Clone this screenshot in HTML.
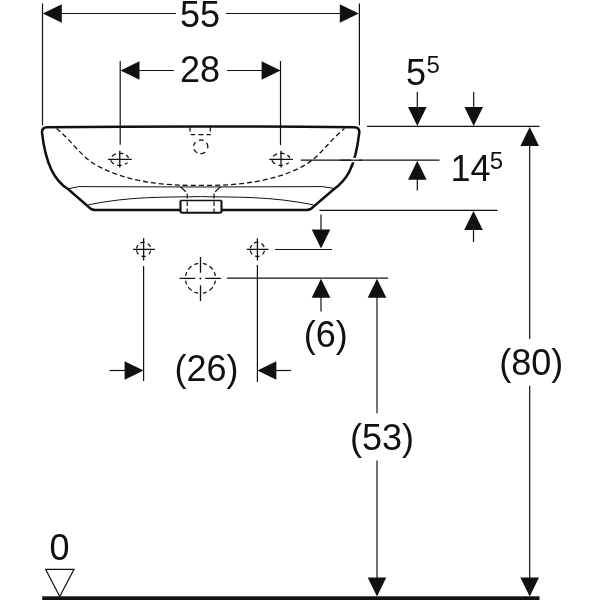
<!DOCTYPE html>
<html><head><meta charset="utf-8"><style>
html,body{margin:0;padding:0;background:#fff;width:600px;height:600px;overflow:hidden}
svg{position:absolute;left:0;top:0;display:block;will-change:transform}
text{font-family:"Liberation Sans",sans-serif;fill:#111}
</style></head><body>
<svg width="600" height="600" viewBox="0 0 600 600">
<g stroke="#111" stroke-width="1.2" fill="none">
  <line x1="42.5" y1="3.5" x2="42.5" y2="125.4"/>
  <line x1="359.4" y1="3.5" x2="359.4" y2="125.3"/>
  <line x1="55" y1="13.5" x2="176" y2="13.5"/>
  <line x1="226" y1="13.5" x2="346" y2="13.5"/>
  <line x1="120.2" y1="61" x2="120.2" y2="144.7"/>
  <line x1="280.5" y1="61" x2="280.5" y2="145"/>
  <line x1="130" y1="70.5" x2="174" y2="70.5"/>
  <line x1="227" y1="70.5" x2="270" y2="70.5"/>
  <line x1="417.3" y1="92" x2="417.3" y2="110"/>
  <line x1="473.7" y1="92" x2="473.7" y2="110"/>
  <line x1="367" y1="126.3" x2="539.5" y2="126.3"/>
  <line x1="529.7" y1="140" x2="529.7" y2="339"/>
  <line x1="529.7" y1="385.7" x2="529.7" y2="585"/>
  <line x1="300.8" y1="160.2" x2="439.5" y2="160.2"/>
  <line x1="417.3" y1="175" x2="417.3" y2="190.5"/>
  <line x1="319.5" y1="210.4" x2="497.5" y2="210.4"/>
  <line x1="473.5" y1="225" x2="473.5" y2="242"/>
  <line x1="321" y1="214.5" x2="321" y2="235"/>
  <line x1="275" y1="249.5" x2="332" y2="249.5"/>
  <line x1="227" y1="278.2" x2="388" y2="278.2"/>
  <line x1="321" y1="290" x2="321" y2="311.5"/>
  <line x1="377" y1="290" x2="377" y2="413.3"/>
  <line x1="377" y1="460.4" x2="377" y2="585"/>
  <line x1="143.6" y1="266" x2="143.6" y2="381"/>
  <line x1="257.4" y1="265" x2="257.4" y2="382"/>
  <line x1="109.5" y1="370.5" x2="130" y2="370.5"/>
  <line x1="270" y1="370.5" x2="291" y2="370.5"/>
  <path d="M45.6 569.4 L74 569.4 L59.75 596.5 Z" stroke-width="1.2"/>
</g>
<g fill="#111">
  <path d="M42.8 13.5 L61.8 4.199999999999999 L61.8 22.8 Z"/>
  <path d="M358.8 13.5 L339.8 4.199999999999999 L339.8 22.8 Z"/>
  <path d="M120.5 70.5 L139.5 61.2 L139.5 79.8 Z"/>
  <path d="M280.6 70.5 L261.6 61.2 L261.6 79.8 Z"/>
  <path d="M417.3 126 L408.0 107 L426.6 107 Z"/>
  <path d="M473.7 126 L464.4 107 L483.0 107 Z"/>
  <path d="M529.7 127 L520.4000000000001 146 L539.0 146 Z"/>
  <path d="M417.3 160.8 L408.0 179.8 L426.6 179.8 Z"/>
  <path d="M473.5 211 L464.2 230 L482.8 230 Z"/>
  <path d="M321 248.5 L311.7 229.5 L330.3 229.5 Z"/>
  <path d="M321 278.8 L311.7 297.8 L330.3 297.8 Z"/>
  <path d="M377 278.8 L367.7 297.8 L386.3 297.8 Z"/>
  <path d="M377 596.5 L367.7 577.5 L386.3 577.5 Z"/>
  <path d="M529.7 596.5 L520.4000000000001 577.5 L539.0 577.5 Z"/>
  <path d="M143.6 370.5 L124.6 361.2 L124.6 379.8 Z"/>
  <path d="M257.4 370.5 L276.4 361.2 L276.4 379.8 Z"/>
  <rect x="42.2" y="596.3" width="497.3" height="4"/>
</g>
<g fill="none" stroke="#111">
  <path d="M47 127.3 Q200.5 125.7 354.5 127.3 Q359.3 127.3 359.3 132.5 C355 169.46, 345.67 180.76, 333.5 189.5 L310.8 208.9 Q309.3 209.9 306.8 209.9 L95 209.9 Q92.5 209.9 91 208.9 L68.3 189.3 C55.01 180.96, 45.7 165.33, 42 132.5 Q42 127.3 47 127.3 Z" stroke-width="2.5"/>
  <path d="M67.5 188.8 L79 186.6 L200.5 187 L322.5 186.6 L334.2 188.5" stroke-width="1"/>
  <path d="M88.3 204.8 C131.3 196.12, 163.29 197.36, 200.5 196.6 C237.71 197.36, 269.7 196.12, 313.3 204.8" stroke-width="1"/>
  <path d="M56.5 128.5 C73.87 142.62, 81.01 157.65, 100 167.2 C127.58 181.2, 161.13 185.88, 200.5 185.4 C239.87 185.88, 273.42 181.2, 301 167.2 C319.99 157.65, 327.13 142.62, 344.5 128.5" stroke-width="1.3" stroke-dasharray="5 3"/>
  <path d="M180.5 186.8 L185.8 191.8 M187.2 193.5 L187.2 198.5 M220.5 186.8 L215.2 191.8 M214 193.5 L214 198.5" stroke-width="1.2"/>
  <rect x="180.5" y="200.5" width="41" height="12.2" fill="#fff" stroke="none"/>
  <path d="M180.5 200.5 L180.5 211 Q180.5 212.7 182.2 212.7 L219.8 212.7 Q221.5 212.7 221.5 211 L221.5 200.5" stroke-width="2.1"/>
  <path d="M180.5 200.6 L221.5 200.6" stroke-width="1.5"/>
  <path d="M187.2 201.5 L187.2 206 M187.2 208.5 L187.2 212 M214 201.5 L214 206 M214 208.5 L214 212" stroke-width="1.2"/>
  <path d="M190 127 L190 131.5 M210.3 127 L210.3 131.5" stroke-width="1.3"/>
  <path d="M190.8 134.7 L195.1 134.7 M198.5 134.7 L203.6 134.7 M206.5 134.7 L210.8 134.7" stroke-width="1.3"/>
  <path d="M198.86 140.23 L199.09 140.18 L199.32 140.13 L199.55 140.09 L199.79 140.06 L200.02 140.03 L200.25 140.01 L200.49 140.00 L200.72 140.00 L200.96 140.00 L201.20 140.02 L201.43 140.04 L201.66 140.06 L201.90 140.10 L202.13 140.14 L202.36 140.19 L202.59 140.24 L202.81 140.31 L203.03 140.38 L203.26 140.46 L203.47 140.54 M206.44 142.80 L206.58 142.99 L206.71 143.18 L206.83 143.38 L206.95 143.58 L207.06 143.78 L207.16 143.98 L207.26 144.19 L207.35 144.41 L207.43 144.62 L207.50 144.84 L207.56 145.06 L207.62 145.28 L207.67 145.50 L207.71 145.73 L207.74 145.95 L207.77 146.18 L207.79 146.41 L207.80 146.64 L207.80 146.86 L207.79 147.09 L207.78 147.32 L207.76 147.55 L207.73 147.77 L207.69 148.00 L207.64 148.22 L207.59 148.45 M205.17 152.08 L204.97 152.23 L204.78 152.37 L204.57 152.50 L204.36 152.62 L204.15 152.74 L203.94 152.85 L203.72 152.96 L203.49 153.05 L203.26 153.14 L203.03 153.22 L202.80 153.30 L202.56 153.36 L202.33 153.42 L202.09 153.47 L201.85 153.51 L201.60 153.54 L201.36 153.57 L201.11 153.59 L200.87 153.60 L200.62 153.60 L200.38 153.59 M197.26 152.75 L197.05 152.63 L196.84 152.51 L196.64 152.38 L196.45 152.24 L196.25 152.10 L196.07 151.95 L195.89 151.80 L195.71 151.64 L195.54 151.47 L195.38 151.30 L195.22 151.13 L195.07 150.95 L194.93 150.76 L194.79 150.57 L194.66 150.37 L194.54 150.18 L194.42 149.97 L194.31 149.77 L194.21 149.56 L194.11 149.34 L194.03 149.13 M193.65 145.97 L193.69 145.74 L193.73 145.51 L193.78 145.28 L193.84 145.05 L193.91 144.83 L193.98 144.60 L194.06 144.38 L194.15 144.17 L194.25 143.95 L194.36 143.74 L194.47 143.54 L194.59 143.33 L194.72 143.13 L194.86 142.94 L195.00 142.75 L195.15 142.56 L195.30 142.38 L195.47 142.21" stroke-width="1.3"/>
  <path d="M111.99 156.42 L112.14 156.24 L112.30 156.06 L112.46 155.89 L112.64 155.73 L112.83 155.57 L113.02 155.41 L113.22 155.25 L113.43 155.11 L113.64 154.96 L113.87 154.82 L114.10 154.69 L114.33 154.56 L114.57 154.44 L114.82 154.32 L115.08 154.21 L115.33 154.10 L115.60 154.01 L115.87 153.91 M118.84 153.33 L119.14 153.32 L119.44 153.30 L119.74 153.30 L120.04 153.30 L120.34 153.31 L120.64 153.33 L120.94 153.35 L121.23 153.38 L121.53 153.42 L121.82 153.46 L122.11 153.51 L122.40 153.57 L122.69 153.63 L122.97 153.70 L123.25 153.78 M126.12 155.11 L126.32 155.26 L126.52 155.41 L126.72 155.57 L126.90 155.73 L127.07 155.89 L127.24 156.06 L127.40 156.24 L127.55 156.41 L127.69 156.59 L127.82 156.78 L127.95 156.96 L128.06 157.15 L128.17 157.34 L128.26 157.53 L128.35 157.73 L128.42 157.93 M127.40 162.47 L127.24 162.64 L127.07 162.81 L126.89 162.98 L126.70 163.14 L126.51 163.30 L126.31 163.46 L126.10 163.61 L125.88 163.75 L125.65 163.89 L125.42 164.02 L125.18 164.15 L124.94 164.28 M121.62 165.27 L121.33 165.31 L121.04 165.34 L120.75 165.36 L120.45 165.38 L120.16 165.39 L119.86 165.40 L119.57 165.40 L119.27 165.39 L118.98 165.38 L118.69 165.35 L118.39 165.33 L118.10 165.29 L117.81 165.25 L117.53 165.20 L117.24 165.15 M113.93 163.92 L113.71 163.78 L113.49 163.63 L113.28 163.49 L113.07 163.33 L112.88 163.18 L112.69 163.01 L112.51 162.85 L112.34 162.68 L112.17 162.50 L112.02 162.32 L111.88 162.14 L111.74 161.96 L111.61 161.77 L111.50 161.58 L111.39 161.39 L111.29 161.19 L111.21 160.99 L111.13 160.79 L111.06 160.59 L111.00 160.39 L110.96 160.19 L110.92 159.98" stroke-width="1.3"/>
  <path d="M273.22 156.42 L273.37 156.24 L273.53 156.06 L273.69 155.89 L273.87 155.73 L274.06 155.57 L274.25 155.41 L274.45 155.25 L274.66 155.11 L274.87 154.96 L275.10 154.82 L275.33 154.69 L275.56 154.56 L275.80 154.44 L276.05 154.32 L276.31 154.21 L276.56 154.10 L276.83 154.01 L277.10 153.91 M280.07 153.33 L280.37 153.32 L280.67 153.30 L280.97 153.30 L281.27 153.30 L281.57 153.31 L281.87 153.33 L282.17 153.35 L282.46 153.38 L282.76 153.42 L283.05 153.46 L283.34 153.51 L283.63 153.57 L283.92 153.63 L284.20 153.70 L284.48 153.78 M287.35 155.11 L287.55 155.26 L287.75 155.41 L287.95 155.57 L288.13 155.73 L288.30 155.89 L288.47 156.06 L288.63 156.24 L288.78 156.41 L288.92 156.59 L289.05 156.78 L289.18 156.96 L289.29 157.15 L289.40 157.34 L289.49 157.53 L289.58 157.73 L289.65 157.93 M288.63 162.47 L288.47 162.64 L288.30 162.81 L288.12 162.98 L287.93 163.14 L287.74 163.30 L287.54 163.46 L287.33 163.61 L287.11 163.75 L286.88 163.89 L286.65 164.02 L286.41 164.15 L286.17 164.28 M282.85 165.27 L282.56 165.31 L282.27 165.34 L281.98 165.36 L281.68 165.38 L281.39 165.39 L281.09 165.40 L280.80 165.40 L280.50 165.39 L280.21 165.38 L279.92 165.35 L279.62 165.33 L279.33 165.29 L279.04 165.25 L278.76 165.20 L278.47 165.15 M275.16 163.92 L274.94 163.78 L274.72 163.63 L274.51 163.49 L274.30 163.33 L274.11 163.18 L273.92 163.01 L273.74 162.85 L273.57 162.68 L273.40 162.50 L273.25 162.32 L273.11 162.14 L272.97 161.96 L272.84 161.77 L272.73 161.58 L272.62 161.39 L272.52 161.19 L272.44 160.99 L272.36 160.79 L272.29 160.59 L272.23 160.39 L272.19 160.19 L272.15 159.98" stroke-width="1.3"/>
  <path d="M108.1 159.3 L131.7 159.3 M119.77 150.8 L119.77 167.6" stroke-width="1.3"/>
  <path d="M269.3 159.3 L292.9 159.3 M281 150.8 L281 167.6" stroke-width="1.3"/>
  <path d="M140.34 243.11 L140.55 243.01 L140.77 242.91 L140.99 242.81 L141.21 242.73 L141.44 242.65 L141.67 242.58 L141.90 242.52 L142.13 242.46 L142.37 242.42 L142.60 242.38 L142.84 242.35 L143.08 242.32 L143.32 242.31 L143.56 242.30 L143.80 242.30 L144.04 242.31 L144.28 242.33 L144.52 242.35 M147.77 243.61 L147.96 243.75 L148.14 243.89 L148.32 244.04 L148.50 244.20 L148.67 244.36 L148.83 244.53 L148.99 244.70 L149.14 244.88 L149.28 245.06 L149.42 245.24 L149.56 245.44 L149.68 245.63 L149.80 245.83 L149.92 246.03 L150.02 246.24 L150.12 246.45 L150.21 246.66 L150.30 246.88 M150.62 250.70 L150.57 250.93 L150.51 251.17 L150.44 251.40 L150.37 251.63 L150.28 251.86 L150.19 252.09 L150.09 252.31 L149.99 252.53 L149.87 252.75 L149.75 252.96 L149.62 253.16 L149.49 253.37 L149.34 253.56 L149.19 253.76 L149.04 253.94 L148.87 254.12 L148.71 254.30 M145.73 256.09 L145.49 256.16 L145.26 256.22 L145.03 256.27 L144.79 256.31 L144.55 256.34 L144.31 256.37 L144.07 256.39 L143.83 256.40 L143.59 256.40 L143.35 256.39 L143.11 256.38 L142.87 256.36 L142.63 256.33 L142.39 256.29 L142.15 256.24 L141.92 256.19 L141.69 256.13 L141.46 256.05 M138.58 254.28 L138.41 254.11 L138.25 253.93 L138.10 253.74 L137.95 253.55 L137.81 253.36 L137.67 253.16 L137.55 252.95 L137.43 252.74 L137.31 252.53 L137.21 252.32 L137.11 252.10 L137.02 251.87 L136.94 251.65 L136.86 251.42 L136.80 251.19 L136.74 250.95 L136.69 250.72 L136.64 250.48 L136.61 250.25 M136.63 248.30 L136.67 248.06 L136.72 247.82 L136.78 247.58 L136.84 247.35 L136.92 247.12 L137.00 246.89 L137.09 246.66 L137.18 246.44 L137.29 246.22 L137.40 246.01 L137.52 245.79 L137.65 245.59 L137.78 245.38 L137.92 245.19" stroke-width="1.3"/>
  <path d="M254.09 243.11 L254.30 243.01 L254.52 242.91 L254.74 242.81 L254.96 242.73 L255.19 242.65 L255.42 242.58 L255.65 242.52 L255.88 242.46 L256.12 242.42 L256.35 242.38 L256.59 242.35 L256.83 242.32 L257.07 242.31 L257.31 242.30 L257.55 242.30 L257.79 242.31 L258.03 242.33 L258.27 242.35 M261.52 243.61 L261.71 243.75 L261.89 243.89 L262.07 244.04 L262.25 244.20 L262.42 244.36 L262.58 244.53 L262.74 244.70 L262.89 244.88 L263.03 245.06 L263.17 245.24 L263.31 245.44 L263.43 245.63 L263.55 245.83 L263.67 246.03 L263.77 246.24 L263.87 246.45 L263.96 246.66 L264.05 246.88 M264.37 250.70 L264.32 250.93 L264.26 251.17 L264.19 251.40 L264.12 251.63 L264.03 251.86 L263.94 252.09 L263.84 252.31 L263.74 252.53 L263.62 252.75 L263.50 252.96 L263.37 253.16 L263.24 253.37 L263.09 253.56 L262.94 253.76 L262.79 253.94 L262.62 254.12 L262.46 254.30 M259.48 256.09 L259.24 256.16 L259.01 256.22 L258.78 256.27 L258.54 256.31 L258.30 256.34 L258.06 256.37 L257.82 256.39 L257.58 256.40 L257.34 256.40 L257.10 256.39 L256.86 256.38 L256.62 256.36 L256.38 256.33 L256.14 256.29 L255.90 256.24 L255.67 256.19 L255.44 256.13 L255.21 256.05 M252.33 254.28 L252.16 254.11 L252.00 253.93 L251.85 253.74 L251.70 253.55 L251.56 253.36 L251.42 253.16 L251.30 252.95 L251.18 252.74 L251.06 252.53 L250.96 252.32 L250.86 252.10 L250.77 251.87 L250.69 251.65 L250.61 251.42 L250.55 251.19 L250.49 250.95 L250.44 250.72 L250.39 250.48 L250.36 250.25 M250.38 248.30 L250.42 248.06 L250.47 247.82 L250.53 247.58 L250.59 247.35 L250.67 247.12 L250.75 246.89 L250.84 246.66 L250.93 246.44 L251.04 246.22 L251.15 246.01 L251.27 245.79 L251.40 245.59 L251.53 245.38 L251.67 245.19" stroke-width="1.3"/>
  <path d="M133 249.35 L154.9 249.35 M143.65 238.25 L143.65 260.5" stroke-width="1.3"/>
  <path d="M246.7 249.35 L268.6 249.35 M257.4 238.25 L257.4 260.5" stroke-width="1.3"/>
  <path d="M215.36 280.65 L215.28 281.13 L215.18 281.61 L215.06 282.09 L214.93 282.56 L214.78 283.03 L214.62 283.49 L214.44 283.95 L214.25 284.40 M212.68 287.12 L212.39 287.49 L212.10 287.86 L211.79 288.22 L211.47 288.57 L211.14 288.91 L210.80 289.23 L210.45 289.55 L210.09 289.86 L209.72 290.15 L209.35 290.44 M206.62 292.00 L206.17 292.20 L205.71 292.37 L205.24 292.54 L204.77 292.68 L204.30 292.81 L203.82 292.93 L203.34 293.03 L202.85 293.12 M198.15 293.12 L197.66 293.03 L197.18 292.93 L196.70 292.81 L196.23 292.68 L195.76 292.54 L195.29 292.37 L194.83 292.20 L194.38 292.00 M191.65 290.44 L191.28 290.15 L190.91 289.86 L190.55 289.55 L190.20 289.23 L189.86 288.91 L189.53 288.57 L189.21 288.22 L188.90 287.86 L188.61 287.49 L188.32 287.12 M186.75 284.40 L186.56 283.95 L186.38 283.49 L186.22 283.03 L186.07 282.56 L185.94 282.09 L185.82 281.61 L185.72 281.13 L185.64 280.65 M185.64 275.95 L185.72 275.47 L185.82 274.99 L185.94 274.51 L186.07 274.04 L186.22 273.57 L186.38 273.11 L186.56 272.65 L186.75 272.20 M188.32 269.48 L188.61 269.11 L188.90 268.74 L189.21 268.38 L189.53 268.03 L189.86 267.69 L190.20 267.37 L190.55 267.05 L190.91 266.74 L191.28 266.45 L191.65 266.16 M194.38 264.60 L194.83 264.40 L195.29 264.23 L195.76 264.06 L196.23 263.92 L196.70 263.79 L197.18 263.67 L197.66 263.57 L198.15 263.48 M202.85 263.48 L203.34 263.57 L203.82 263.67 L204.30 263.79 L204.77 263.92 L205.24 264.06 L205.71 264.23 L206.17 264.40 L206.62 264.60 M209.35 266.16 L209.72 266.45 L210.09 266.74 L210.45 267.05 L210.80 267.37 L211.14 267.69 L211.47 268.03 L211.79 268.38 L212.10 268.74 L212.39 269.11 L212.68 269.48 M214.25 272.20 L214.44 272.65 L214.62 273.11 L214.78 273.57 L214.93 274.04 L215.06 274.51 L215.18 274.99 L215.28 275.47 L215.36 275.95" stroke-width="1.3"/>
  <path d="M179.5 278.3 L195.2 278.3 M205.2 278.3 L221 278.3 M200.5 257 L200.5 272.7 M200.5 285.2 L200.5 301" stroke-width="1.3"/>
  <circle cx="200.4" cy="278.6" r="1" fill="#111" stroke="none"/>
</g>
<rect x="351" y="157.9" width="8" height="4.4" fill="#fff"/>
<line x1="340" y1="160.2" x2="362" y2="160.2" stroke="#111" stroke-width="1.2"/>
<text x="180" y="26.5" font-size="36">55</text>
<text x="180" y="81.5" font-size="36">28</text>
<text x="406" y="85" font-size="36">5</text>
<text x="426.4" y="73.2" font-size="24">5</text>
<text x="450.4" y="181" font-size="36">14</text>
<text x="489.8" y="169" font-size="24">5</text>
<text x="303.8" y="347" font-size="36">(6)</text>
<text x="174.4" y="381.3" font-size="36">(26)</text>
<text x="350" y="449.5" font-size="36">(53)</text>
<text x="499.3" y="375.3" font-size="36">(80)</text>
<text x="49.6" y="560.2" font-size="36">0</text>
</svg>
</body></html>
